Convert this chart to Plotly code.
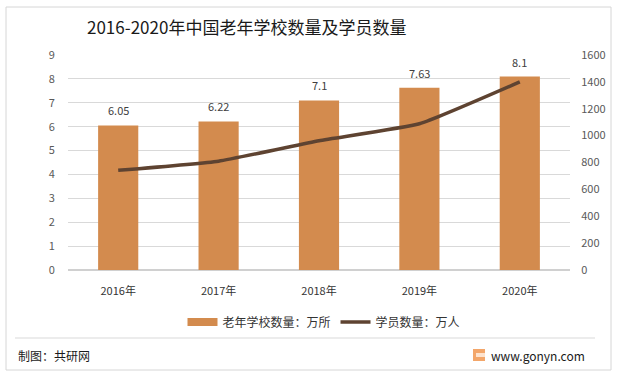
import plotly.graph_objects as go

years = ["2016年", "2017年", "2018年", "2019年", "2020年"]
schools = [6.05, 6.22, 7.1, 7.63, 8.1]          # 老年学校数量：万所
students = [742, 810, 962, 1088, 1400]          # 学员数量：万人
school_labels = ["6.05", "6.22", "7.1", "7.63", "8.1"]

W, H = 617, 378
L, R, T, B = 68, 570, 55, 270  # plot area in pixels


def px(x):
    return (x - L) / (R - L)


def py(y):
    return (B - y) / (B - T)


FONT = "Noto Sans CJK SC"
BAR_COLOR = "#D38B4E"
LINE_COLOR = "#5E4331"

fig = go.Figure()
fig.add_trace(go.Bar(
    x=years, y=schools, name="老年学校数量：万所",
    marker=dict(color=BAR_COLOR, line=dict(width=0)),
    yaxis="y", showlegend=False,
))
# legend proxy for the bar series (wide flat swatch like the reference)
fig.add_trace(go.Scatter(
    x=[None], y=[None], name="老年学校数量：万所", mode="lines",
    line=dict(color=BAR_COLOR, width=8), yaxis="y",
))
fig.add_trace(go.Scatter(
    x=years, y=students, name="学员数量：万人", mode="lines",
    line=dict(color=LINE_COLOR, width=3.5, shape="spline", smoothing=0.4),
    yaxis="y2",
))

annotations = []
for yr, v, lab in zip(years, schools, school_labels):
    annotations.append(dict(
        x=yr, y=v, xref="x", yref="y", text=lab, showarrow=False,
        yanchor="bottom", yshift=5, font=dict(family=FONT, size=11, color="#404040"),
    ))

annotations.append(dict(
    x=px(246), y=py(27), xref="paper", yref="paper",
    text="2016-2020年中国老年学校数量及学员数量", showarrow=False,
    xanchor="center", yanchor="middle",
    font=dict(family=FONT, size=17, color="#1a1a1a"),
))
annotations.append(dict(
    x=px(16), y=py(355), xref="paper", yref="paper", text="制图：共研网",
    showarrow=False, xanchor="left", yanchor="middle",
    font=dict(family=FONT, size=12, color="#1a1a1a"),
))
annotations.append(dict(
    x=px(489), y=py(355), xref="paper", yref="paper", text="www.gonyn.com",
    showarrow=False, xanchor="left", yanchor="middle",
    font=dict(family=FONT, size=12, color="#1a1a1a"),
))

shapes = [
    dict(type="rect", xref="paper", yref="paper",
         x0=px(6), x1=px(611), y0=py(370), y1=py(7),
         line=dict(color="#d6d6d6", width=1), fillcolor="rgba(0,0,0,0)", layer="below"),
    dict(type="line", xref="paper", yref="paper",
         x0=px(15), x1=px(595), y0=py(338), y1=py(338),
         line=dict(color="#d9d9d9", width=1)),
    dict(type="rect", xref="paper", yref="paper",
         x0=px(473), x1=px(485), y0=py(361), y1=py(349),
         line=dict(width=0), fillcolor="#F3A66A"),
    dict(type="rect", xref="paper", yref="paper",
         x0=px(476), x1=px(485), y0=py(357), y1=py(353),
         line=dict(width=0), fillcolor="#FDE3CF"),
]

fig.update_layout(
    width=W, height=H,
    margin=dict(l=L, r=W - R, t=T, b=H - B),
    paper_bgcolor="white", plot_bgcolor="white",
    bargap=0.6,
    showlegend=True,
    legend=dict(orientation="h", x=px(324), xanchor="center", y=py(322), yanchor="middle",
                font=dict(family=FONT, size=12, color="#333333"),
                itemwidth=30, tracegroupgap=0, bgcolor="rgba(0,0,0,0)"),
    xaxis=dict(showgrid=False, ticks="outside", ticklen=11, tickcolor="rgba(0,0,0,0)",
               tickfont=dict(family=FONT, size=11, color="#333333"),
               showline=False, zeroline=False),
    yaxis=dict(range=[0, 9], dtick=1, showgrid=True, gridcolor="#d9d9d9", gridwidth=1,
               zeroline=True, zerolinecolor="#d0d0d0",
               tickfont=dict(family=FONT, size=11, color="#595959"),
               ticks="outside", ticklen=10, tickcolor="rgba(0,0,0,0)"),
    yaxis2=dict(range=[0, 1600], dtick=200, overlaying="y", side="right", showgrid=False,
                zeroline=False,
                tickfont=dict(family=FONT, size=11, color="#595959"),
                ticks="outside", ticklen=8, tickcolor="rgba(0,0,0,0)"),
    annotations=annotations,
    shapes=shapes,
)

fig.write_html("out.html", config={"displayModeBar": False},
               post_script="document.body.style.margin='0';")
